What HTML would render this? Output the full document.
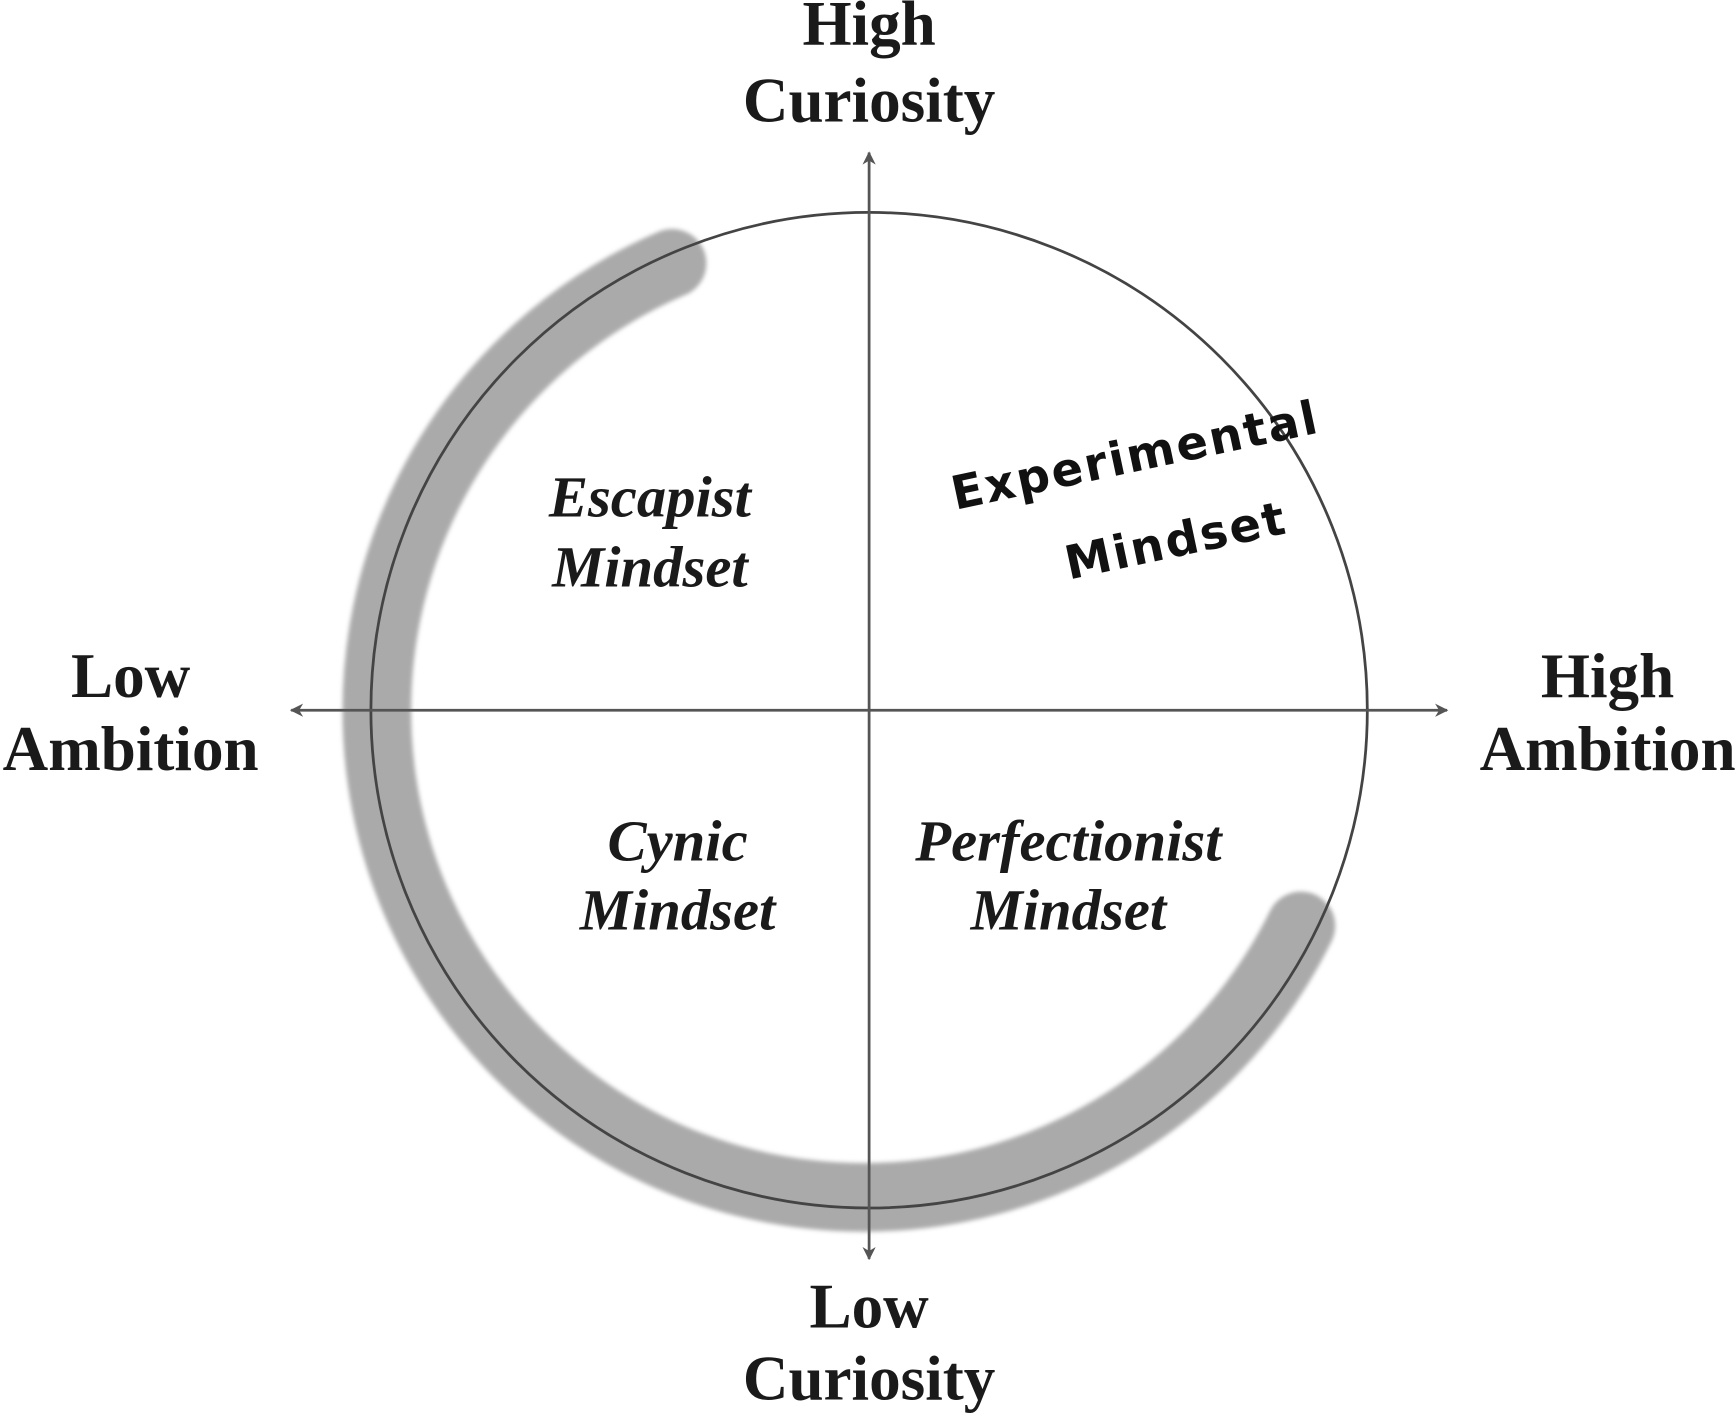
<!DOCTYPE html>
<html><head><meta charset="utf-8"><style>
html,body{margin:0;padding:0;background:#fff;}
svg{display:block;}
.b{font-family:"Liberation Serif",serif;font-weight:bold;font-size:57px;fill:#1a1a1a;text-anchor:middle;}
.i{font-family:"Liberation Serif",serif;font-weight:bold;font-style:italic;font-size:53px;fill:#1a1a1a;text-anchor:middle;}
.h{font-family:"DejaVu Sans",sans-serif;font-weight:bold;font-size:42px;fill:#111;text-anchor:middle;letter-spacing:2px;}
</style></head><body>
<svg width="1736" height="1416" viewBox="0 0 1568 1280" preserveAspectRatio="none" xmlns="http://www.w3.org/2000/svg">
<defs>
<filter id="bl" x="-10%" y="-10%" width="120%" height="120%"><feGaussianBlur stdDeviation="2"/></filter>
<marker id="ar" viewBox="0 0 10 10" refX="9" refY="5" markerWidth="12" markerHeight="12" markerUnits="userSpaceOnUse" orient="auto"><path d="M0,0 L10,5 L0,10 L3,5 Z" fill="#555"/></marker>
</defs>
<path d="M607,238 A440,440 0 1 0 1175,837" fill="none" stroke="#aaaaaa" stroke-width="62" stroke-linecap="round" filter="url(#bl)"/>
<circle cx="785" cy="642" r="450" fill="none" stroke="#444" stroke-width="2.5"/>
<line x1="785" y1="642" x2="785" y2="138" stroke="#555" stroke-width="2.5" marker-end="url(#ar)"/>
<line x1="785" y1="642" x2="785" y2="1138" stroke="#555" stroke-width="2.5" marker-end="url(#ar)"/>
<line x1="785" y1="642" x2="1307" y2="642" stroke="#555" stroke-width="2.5" marker-end="url(#ar)"/>
<line x1="785" y1="642" x2="263" y2="642" stroke="#555" stroke-width="2.5" marker-end="url(#ar)"/>
<text class="b" x="785" y="40">High</text>
<text class="b" x="785" y="110">Curiosity</text>
<text class="b" x="785" y="1200">Low</text>
<text class="b" x="785" y="1265">Curiosity</text>
<text class="b" x="118" y="630">Low</text>
<text class="b" x="118" y="696">Ambition</text>
<text class="b" x="1452" y="630">High</text>
<text class="b" x="1452" y="696">Ambition</text>
<text class="i" x="587" y="467">Escapist</text>
<text class="i" x="587" y="530">Mindset</text>
<text class="i" x="612" y="778">Cynic</text>
<text class="i" x="612" y="840">Mindset</text>
<text class="i" x="965" y="778">Perfectionist</text>
<text class="i" x="965" y="840">Mindset</text>
<g transform="rotate(-12 1030 410)">
<text class="h" x="1025" y="425">Experimental</text>
<text class="h" x="1045" y="508">Mindset</text>
</g>
</svg>
</body></html>
